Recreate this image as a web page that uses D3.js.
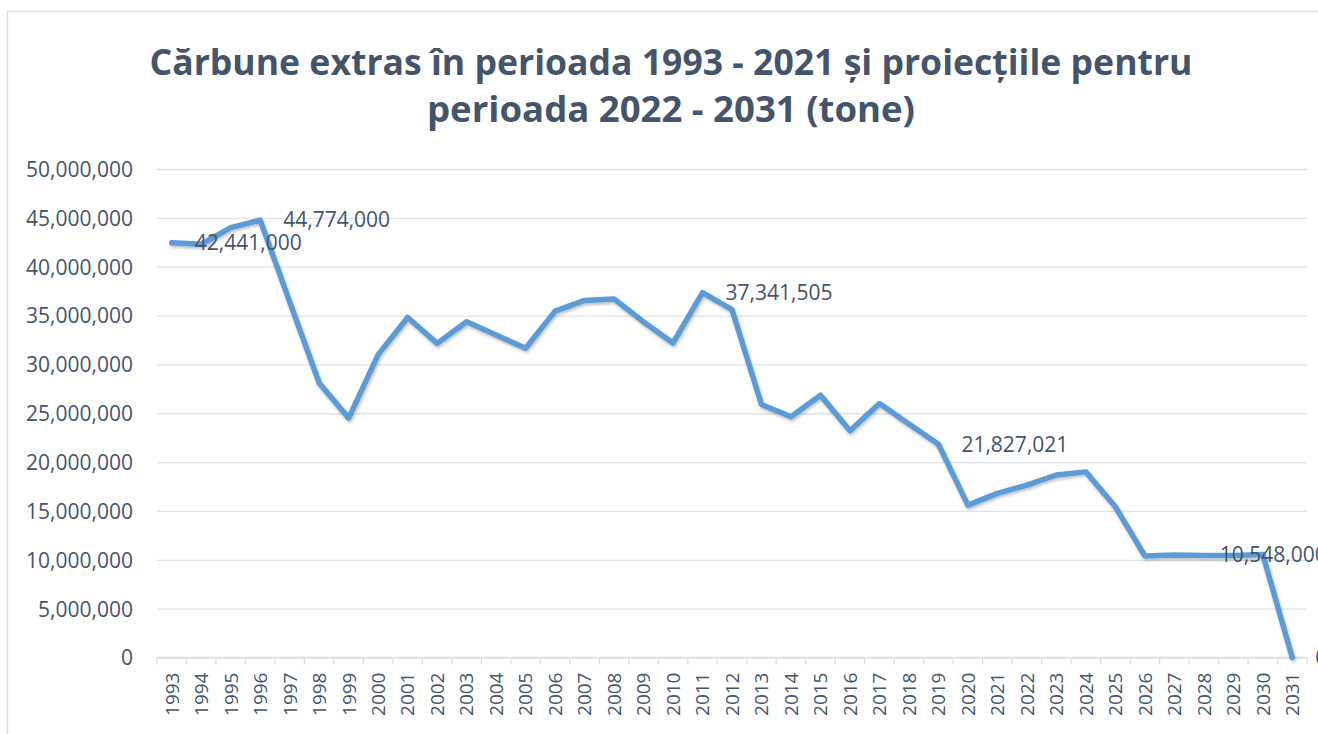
<!DOCTYPE html>
<html>
<head>
<meta charset="utf-8">
<script src="https://cdn.jsdelivr.net/npm/d3@7"></script>
<style>
  body { margin: 0; background: #fff; }
  svg { display: block; }
  text { font-family: "Open Sans", "Liberation Sans", sans-serif; fill: #44546a; }
  .grid line { stroke: #dfe3e8; stroke-width: 1.3; }
  .grid .domain { display: none; }
</style>
</head>
<body>
<div id="chart"></div>
<script>
// years on the x axis
var years = [1993, 1994, 1995, 1996, 1997, 1998, 1999, 2000, 2001, 2002,
    2003, 2004, 2005, 2006, 2007, 2008, 2009, 2010, 2011, 2012,
    2013, 2014, 2015, 2016, 2017, 2018, 2019, 2020, 2021, 2022,
    2023, 2024, 2025, 2026, 2027, 2028, 2029, 2030, 2031];

// coal extracted (tonnes)
var tonnes = [42441000, 42300000, 44000000, 44774000, 36400000, 28100000, 24500000, 31000000, 34800000, 32150000,
    34370000, 33000000, 31650000, 35450000, 36550000, 36700000, 34350000, 32200000, 37341505, 35600000,
    25900000, 24650000, 26850000, 23200000, 26000000, 23900000, 21827021, 15600000, 16800000, 17650000,
    18680000, 19000000, 15430000, 10400000, 10500000, 10450000, 10450000, 10548000, 0];

// years that carry a value label
var labelYears = [1993, 1996, 2011, 2019, 2030, 2031];

var yTicks = [0, 5000000, 10000000, 15000000, 20000000, 25000000, 30000000, 35000000, 40000000, 45000000, 50000000];

var titleLines = ['Cărbune extras în perioada 1993 - 2021 și proiecțiile pentru',
    'perioada 2022 - 2031 (tone)'];

var W = 1318, H = 734;
var margin = {top: 169, left: 157},
    width = 1150,
    height = 488.5;

var svg = d3.select('#chart').append('svg')
    .attr('width', W)
    .attr('height', H);

var defs = svg.append('defs');
var shadow = defs.append('filter').attr('id', 'shadow')
    .attr('x', '-5%').attr('y', '-5%').attr('width', '110%').attr('height', '115%');
shadow.append('feDropShadow')
    .attr('dx', 1).attr('dy', 2).attr('stdDeviation', 1.6)
    .attr('flood-color', '#000').attr('flood-opacity', 0.25);

// chart area border
svg.append('rect')
    .attr('x', 7.5).attr('y', 11.5)
    .attr('width', W + 20).attr('height', H + 20)
    .attr('fill', 'none')
    .attr('stroke', '#d9dee5')
    .attr('stroke-width', 1.3);

// title
svg.append('g').selectAll('text')
    .data(titleLines)
    .enter().append('text')
    .attr('x', 671)
    .attr('y', function(d, i) { return 75 + i * 47; })
    .attr('text-anchor', 'middle')
    .attr('font-size', 36)
    .attr('font-weight', 700)
    .attr('textLength', function(d, i) { return i === 0 ? 1043 : 488; })
    .attr('lengthAdjust', 'spacingAndGlyphs')
    .text(function(d) { return d; });

var g = svg.append('g')
    .attr('transform', 'translate(' + margin.left + ',' + margin.top + ')');

var x = d3.scaleBand().domain(years).range([0, width]);
var y = d3.scaleLinear().domain([0, 50000000]).range([height, 0]);
var fmt = d3.format(',');

// gridlines + y labels
var yAxis = d3.axisLeft(y)
    .tickValues(yTicks)
    .tickSize(-width)
    .tickPadding(24)
    .tickFormat(fmt);

g.append('g')
    .attr('class', 'grid')
    .call(yAxis)
    .selectAll('text')
    .attr('font-size', 21)
    .attr('fill', '#44546a')
    .attr('dy', '0.35em');

// x axis: baseline, boundary ticks, rotated year labels
var xAxisG = g.append('g').attr('transform', 'translate(0,' + height + ')');

xAxisG.append('line')
    .attr('x1', 0).attr('x2', width)
    .attr('stroke', '#d9dee5').attr('stroke-width', 1.3);

xAxisG.selectAll('.tick-mark')
    .data(years.concat(['end']))
    .enter().append('line')
    .attr('class', 'tick-mark')
    .attr('x1', function(d) { return d === 'end' ? width : x(d); })
    .attr('x2', function(d) { return d === 'end' ? width : x(d); })
    .attr('y1', 0).attr('y2', 7)
    .attr('stroke', '#d9dee5').attr('stroke-width', 1.3);

xAxisG.selectAll('.year')
    .data(years)
    .enter().append('text')
    .attr('class', 'year')
    .attr('transform', function(d) {
        return 'translate(' + (x(d) + x.bandwidth() / 2) + ',15) rotate(-90)';
    })
    .attr('text-anchor', 'end')
    .attr('dy', '0.36em')
    .attr('font-size', 19)
    .text(function(d) { return d; });

// the line
var line = d3.line()
    .x(function(d, i) { return x(years[i]) + x.bandwidth() / 2; })
    .y(function(d) { return y(d); });

g.append('path')
    .datum(tonnes)
    .attr('d', line)
    .attr('fill', 'none')
    .attr('stroke', '#5b9bd5')
    .attr('stroke-width', 5.5)
    .attr('stroke-linejoin', 'round')
    .attr('stroke-linecap', 'round')
    .attr('filter', 'url(#shadow)');

// value labels (2030 label was pulled left in the original)
var labelDx = {2030: -43};

g.selectAll('.val')
    .data(labelYears)
    .enter().append('text')
    .attr('class', 'val')
    .attr('x', function(d) {
        var dx = labelDx[d] !== undefined ? labelDx[d] : 23;
        return x(d) + x.bandwidth() / 2 + dx;
    })
    .attr('y', function(d) { return y(tonnes[years.indexOf(d)]); })
    .attr('dy', '0.35em')
    .attr('font-size', 21)
    .attr('fill', '#44546a')
    .text(function(d) { return fmt(tonnes[years.indexOf(d)]); });
</script>
</body>
</html>
